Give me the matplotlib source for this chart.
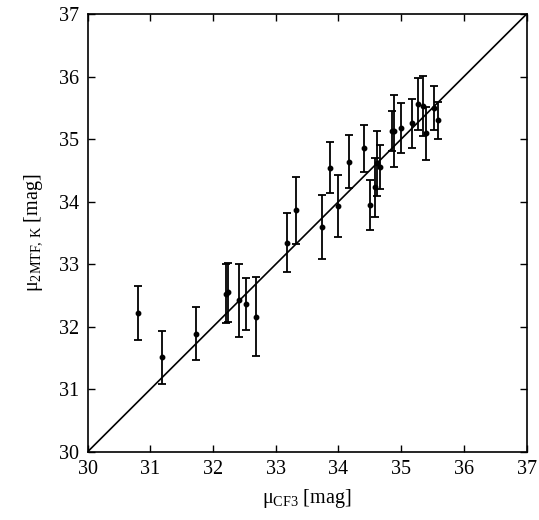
import numpy as np
import matplotlib
matplotlib.use("Agg")
import matplotlib.pyplot as plt

plt.rcParams['font.family'] = ['Liberation Serif', 'DejaVu Serif']
plt.rcParams['mathtext.fontset'] = 'custom'
plt.rcParams['mathtext.rm'] = 'Liberation Serif'
plt.rcParams['mathtext.it'] = 'Liberation Serif:italic'

# distance moduli
mu_cf3 = [30.81, 31.19, 31.73, 32.20, 32.23, 32.42, 32.52, 32.68, 33.18, 33.33,
          33.74, 33.87, 34.00, 34.16, 34.40, 34.51, 34.59, 34.62, 34.66, 34.85,
          34.89, 34.99, 35.18, 35.26, 35.34, 35.40, 35.53, 35.59]
mu_2mtf = [32.22, 31.51, 31.89, 32.53, 32.55, 32.42, 32.36, 32.16, 33.34, 33.86,
           33.59, 34.54, 33.93, 34.64, 34.85, 33.94, 34.23, 34.61, 34.55, 35.13,
           35.13, 35.18, 35.25, 35.56, 35.53, 35.09, 35.50, 35.30]
mu_err = [0.43, 0.42, 0.42, 0.47, 0.47, 0.59, 0.42, 0.63, 0.47, 0.54,
          0.51, 0.41, 0.50, 0.42, 0.38, 0.40, 0.47, 0.52, 0.35, 0.32,
          0.58, 0.40, 0.39, 0.42, 0.48, 0.42, 0.35, 0.30]
lims = [30, 37]

fig = plt.figure(figsize=(5.39, 5.20), dpi=100)
ax = fig.add_axes([0.1627, 0.1313, 0.8143, 0.8417])

ax.plot(lims, lims, color='k', lw=1.2)
ax.errorbar(mu_cf3, mu_2mtf, yerr=mu_err, fmt='o', color='k', ms=3.2,
            elinewidth=1.3, capsize=3, capthick=1.3)

ax.set_xlim(lims)
ax.set_ylim(lims)
ax.set_xticks(range(30, 38))
ax.set_yticks(range(30, 38))
ax.tick_params(direction='in', top=True, right=True, length=5, width=1,
               labelsize=14.5, pad=6)
for s in ax.spines.values():
    s.set_linewidth(1.2)

ax.set_xlabel('μ$_{\\rm CF3}$ [mag]', fontsize=14.5, labelpad=6)
ax.set_ylabel('μ$_{\\rm 2MTF,\\,K}$ [mag]', fontsize=14.5, labelpad=10)

fig.savefig('out.png', dpi=100)
